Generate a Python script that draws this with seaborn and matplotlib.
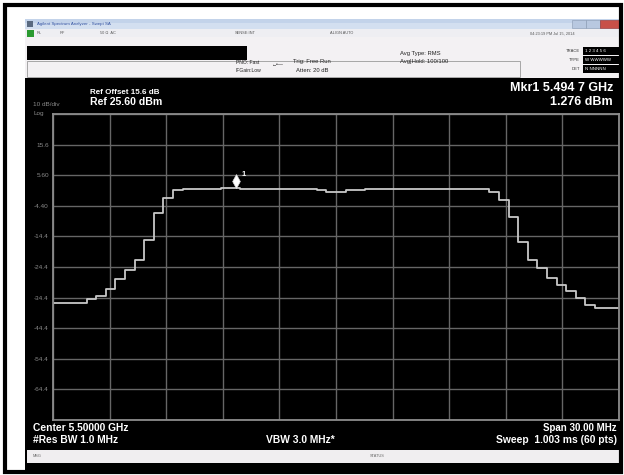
import numpy as np
import pandas as pd
import seaborn as sns
import matplotlib.pyplot as plt
import matplotlib.patches as mpatches
from matplotlib.path import Path

# sweep settings
center_ghz = 5.5
span_ghz = 0.030
n_pts = 60
ref_level = 25.6
db_per_div = 10

# trace values (dBm), one per sweep point
trace_dbm = [
    -36.2, -36.2, -36.2, -36.2, -35.0, -34.0, -31.5, -28.3, -25.4, -22.0,
    -15.6, -6.8, -1.9, 0.6, 1.2, 1.25, 1.25, 1.25, 1.28, 1.28,
    1.25, 1.25, 1.2, 1.2, 1.15, 1.15, 1.1, 1.0, 0.7, 0.2,
    0.1, 0.6, 0.9, 1.0, 1.0, 1.05, 1.1, 1.1, 1.15, 1.15,
    1.15, 1.15, 1.15, 1.15, 1.1, 1.0, 0.2, -2.5, -8.0, -16.1,
    -22.1, -24.7, -28.0, -30.3, -32.1, -34.5, -36.8, -37.8, -37.8, -37.9,
]
mkr_freq = 5.4947
mkr_level = 1.276

# y labels from the bottom grid line to the top one
y_labels = ["", "-64.4", "-54.4", "-44.4", "-34.4", "-24.4", "-14.4",
            "-4.40", "5.60", "15.6", ""]

sns.set_theme(style="dark")
plt.rcParams["font.family"] = ["Liberation Sans", "DejaVu Sans"]

W, H = 624, 475
fig = plt.figure(figsize=(W / 100, H / 100), dpi=100, facecolor="white")

# background layer in pixel coordinates
bg = fig.add_axes([0, 0, 1, 1])
bg.set_xlim(0, W)
bg.set_ylim(H, 0)
bg.axis("off")


def box(x0, y0, x1, y1, fc, ec="none", lw=0, z=1):
    bg.add_patch(mpatches.Rectangle((x0, y0), x1 - x0, y1 - y0, facecolor=fc,
                                    edgecolor=ec, linewidth=lw, zorder=z))


def txt(x, y, s, size, color="white", ha="left", weight="bold"):
    bg.text(x, y, s, fontsize=size, color=color, ha=ha, va="center",
            fontweight=weight, zorder=5)


# outer frame + screenshot
box(25, 19, 621, 472, "black")
bg.add_patch(mpatches.Rectangle((5, 4.5), 616, 467, fill=False,
                                edgecolor="black", linewidth=3, zorder=6))

# title bar
box(25, 19, 621, 29, "#c3d3ea", z=2)
box(25, 23, 621, 29, "#d3dff0", z=2)
box(27, 21, 33, 27, "#5a6a80", z=3)
txt(37, 24, "Agilent Spectrum Analyzer - Swept SA", 3.2, "#3050a0", weight="normal")
box(572, 20, 586, 28, "#b8c8e0", ec="#8898b0", lw=0.4, z=3)
box(586, 20, 600, 28, "#b8c8e0", ec="#8898b0", lw=0.4, z=3)
box(600, 20, 620, 28, "#c85048", ec="#903030", lw=0.4, z=3)

# status row
box(25, 29, 621, 37, "#eeeef2", z=2)
box(27, 30, 34, 37, "#2a9a30", z=3)
for xs, s in [(37, "RL"), (60, "RF"), (100, "50 \u03a9  AC"), (235, "SENSE:INT"),
              (330, "ALIGN AUTO"), (530, "04:23:19 PM Jul 15, 2014")]:
    txt(xs, 33.5, s, 2.8, "#555555", weight="normal")

# settings panel
box(25, 37, 621, 78, "#f3f1f3", z=2)
box(27, 46, 247, 60, "black", z=3)
bg.add_patch(mpatches.Rectangle((27, 61), 493, 16, fill=False, edgecolor="#9a9a9a",
                                linewidth=0.6, zorder=3))
txt(236, 63, "PNO: Fast", 3.6, "#222222", weight="normal")
txt(236, 71, "IFGain:Low", 3.6, "#222222", weight="normal")
txt(272, 64, "\u2190\u2022\u2014", 3.6, "#222222", weight="normal")
txt(293, 62, "Trig: Free Run", 4.2, "#222222", weight="normal")
txt(296, 71, "Atten: 20 dB", 4.2, "#222222", weight="normal")
txt(400, 53, "Avg Type: RMS", 4.2, "#222222", weight="normal")
txt(400, 62, "Avg|Hold: 100/100", 4.2, "#222222", weight="normal")
txt(580, 51, "TRACE", 3.0, "#333333", ha="right", weight="normal")
txt(580, 60, "TYPE", 3.0, "#333333", ha="right", weight="normal")
txt(580, 69, "DET", 3.0, "#333333", ha="right", weight="normal")
box(583, 47, 620, 55, "black", z=3)
box(583, 56, 620, 64, "black", z=3)
box(583, 65, 620, 73, "black", z=3)
txt(585, 51, "1 2 3 4 5 6", 3.2, "white", weight="normal")
txt(585, 60, "W WWWWW", 3.2, "white", weight="normal")
txt(585, 69, "N NNNNN", 3.2, "white", weight="normal")

# screen annotations
txt(90, 93, "Ref Offset 15.6 dB", 5.8)
txt(90, 102, "Ref 25.60 dBm", 7.6)
txt(33, 104, "10 dB/div", 4.6, "#8a8a8a", weight="normal")
txt(33, 113, "Log", 4.6, "#8a8a8a", weight="normal")
txt(613, 88, "Mkr1 5.494 7 GHz", 9, ha="right")
txt(613, 102, "1.276 dBm", 9, ha="right")
txt(33, 428, "Center 5.50000 GHz", 7.4)
txt(33, 440, "#Res BW 1.0 MHz", 7.4)
txt(300, 440, "VBW 3.0 MHz*", 7.4, ha="center")
txt(617, 428, "Span 30.00 MHz", 7.0, ha="right")
txt(617, 440, "Sweep  1.003 ms (60 pts)", 7.4, ha="right")

# message bar
box(27, 450, 620, 463, "#f0eef0", z=2)
txt(33, 456, "MSG", 2.8, "#666666", weight="normal")
txt(370, 456, "STATUS", 2.8, "#666666", weight="normal")

# the trace display
ax = fig.add_axes([53 / W, (H - 420) / H, 566 / W, 306 / H])
ax.set_facecolor("black")
freqs = center_ghz + np.linspace(-span_ghz / 2, span_ghz / 2, n_pts)
df = pd.DataFrame({"freq": freqs, "level": trace_dbm})
sns.lineplot(data=df, x="freq", y="level", ax=ax, color="#c8c8c8",
             linewidth=1.3, drawstyle="steps-mid")

# marker diamond with its bottom tip on the trace
diamond = Path([(0, 0), (-0.55, 1), (0, 2), (0.55, 1), (0, 0)])
ax.plot([mkr_freq], [mkr_level], marker=diamond, markersize=20,
        color="white", markeredgecolor="#dddddd", markeredgewidth=0.5, zorder=5)
ax.annotate("1", (mkr_freq, mkr_level), xytext=(4, 9), textcoords="offset points",
            color="white", fontsize=5.5, fontweight="bold")

x_lo, x_hi = center_ghz - span_ghz / 2, center_ghz + span_ghz / 2
y_lo = ref_level - 10 * db_per_div
ax.set_xlim(x_lo, x_hi)
ax.set_ylim(y_lo, ref_level)
ax.set_xticks(np.linspace(x_lo, x_hi, 11))
ax.set_yticks(np.linspace(y_lo, ref_level, 11))
ax.set_yticklabels(y_labels)
ax.set_xticklabels([])
ax.set_xlabel("")
ax.set_ylabel("")
ax.tick_params(axis="both", length=0, labelsize=4.6, labelcolor="#8a8a8a", pad=3)
ax.grid(True, color="#666666", linewidth=1.0)
for sp in ax.spines.values():
    sp.set_visible(True)
    sp.set_color("#8c8c8c")
    sp.set_linewidth(1.3)

fig.savefig("out.png", dpi=100, facecolor="white")
